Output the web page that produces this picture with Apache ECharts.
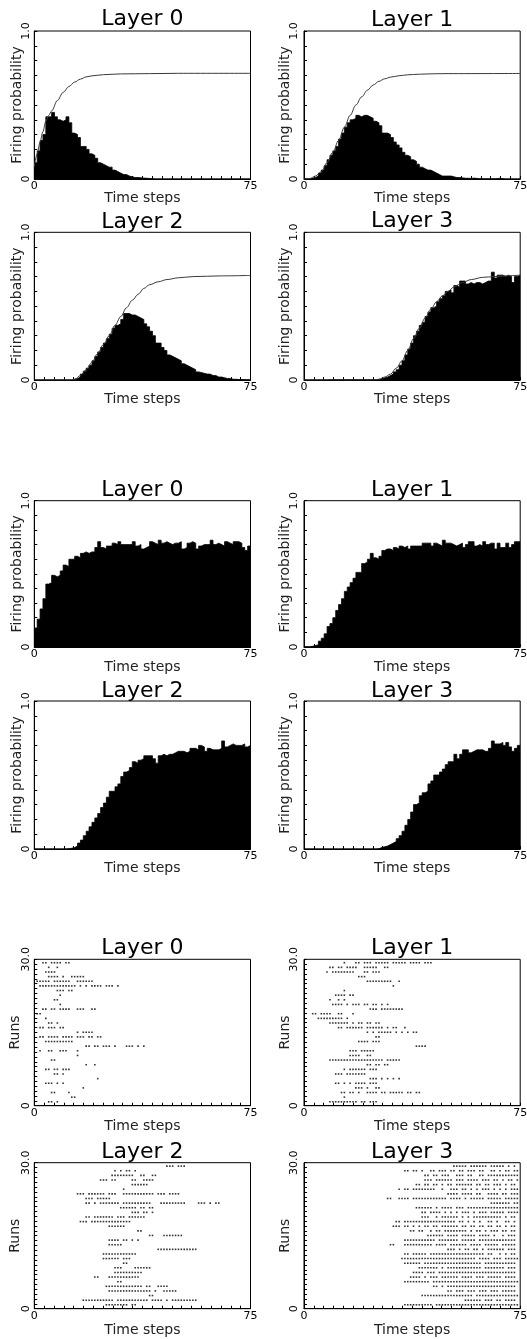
<!DOCTYPE html>
<html><head><meta charset="utf-8">
<script src="https://cdn.jsdelivr.net/npm/echarts@6/dist/echarts.min.js"></script>
<style>html,body{margin:0;padding:0;background:#fff}#c{width:527px;height:1339px}</style>
</head><body><div id="c"></div>
<script>
// ---------- DATA ----------
const timeBins = [0,1,2,3,4,5,6,7,8,9,10,11,12,13,14,15,16,17,18,19,20,21,22,23,24,25,26,27,28,29,30,31,32,33,34,35,36,37,38,39,40,41,42,43,44,45,46,47,48,49,50,51,52,53,54,55,56,57,58,59,60,61,62,63,64,65,66,67,68,69,70,71,72,73,74];
const timeEnd = 75;
const layerTitles = ['Layer 0','Layer 1','Layer 2','Layer 3'];

// Group 1: firing probability histograms with theoretical curve
const histA_L0 = [0.11,0.19,0.26,0.30,0.42,0.42,0.45,0.42,0.40,0.39,0.40,0.42,0.38,0.31,0.30,0.28,0.22,0.22,0.20,0.17,0.16,0.14,0.11,0.10,0.09,0.08,0.08,0.06,0.05,0.04,0.03,0.03,0.02,0.015,0.01,0.01,0.008,0.006,0.005,0.003,0.002,0,0,0,0,0,0,0,0,0,0,0,0,0,0,0,0,0,0,0,0,0,0,0,0,0,0,0,0,0,0,0,0,0,0];
const histA_L1 = [0.002,0.003,0.005,0.01,0.02,0.04,0.06,0.09,0.13,0.16,0.19,0.22,0.27,0.31,0.35,0.38,0.40,0.41,0.43,0.42,0.43,0.43,0.42,0.41,0.39,0.38,0.36,0.31,0.31,0.30,0.28,0.25,0.23,0.21,0.18,0.16,0.15,0.13,0.12,0.10,0.08,0.07,0.06,0.06,0.05,0.04,0.03,0.02,0.02,0.02,0.02,0.015,0.01,0.01,0.008,0.005,0.005,0.004,0.006,0.004,0.002,0.001,0.001,0.001,0.001,0.001,0.002,0.005,0.002,0,0,0,0,0,0];
const histA_L2 = [0,0,0,0,0,0,0,0,0,0,0,0,0,0.005,0.01,0.02,0.04,0.06,0.08,0.10,0.13,0.16,0.19,0.22,0.25,0.28,0.31,0.35,0.37,0.38,0.41,0.45,0.45,0.44,0.44,0.43,0.42,0.41,0.38,0.36,0.33,0.30,0.25,0.25,0.22,0.20,0.17,0.16,0.15,0.14,0.13,0.11,0.10,0.09,0.08,0.07,0.055,0.05,0.045,0.04,0.04,0.03,0.03,0.02,0.02,0.015,0.01,0.01,0.005,0.005,0.003,0.003,0.002,0.002,0.001];
const histA_L3 = [0,0,0,0,0,0,0,0,0.002,0.002,0.002,0.002,0.002,0.002,0.002,0.002,0.002,0.002,0.002,0.002,0.002,0.002,0.002,0.002,0.002,0.004,0.008,0.015,0.02,0.03,0.04,0.055,0.07,0.10,0.13,0.17,0.21,0.25,0.30,0.33,0.37,0.39,0.43,0.46,0.49,0.50,0.53,0.55,0.57,0.60,0.61,0.59,0.64,0.63,0.67,0.67,0.65,0.66,0.65,0.66,0.66,0.65,0.66,0.67,0.67,0.73,0.69,0.71,0.71,0.70,0.71,0.70,0.66,0.70,0.71];
const curveA_L0 = [[0,0.08],[1,0.17],[2,0.25],[3,0.32],[4,0.39],[5,0.43],[6,0.46],[8,0.53],[10,0.585],[12,0.625],[14,0.655],[16,0.675],[18,0.69],[20,0.697],[24,0.705],[30,0.71],[40,0.712],[50,0.714],[75,0.714]];
const curveA_L1 = [[0,0],[2,0.003],[4,0.02],[6,0.05],[8,0.11],[10,0.18],[12,0.26],[14,0.35],[16,0.43],[18,0.50],[20,0.555],[22,0.60],[24,0.635],[26,0.66],[28,0.677],[30,0.688],[33,0.698],[36,0.704],[40,0.708],[45,0.711],[50,0.712],[75,0.713]];
const curveA_L2 = [[0,0],[12,0],[14,0.005],[16,0.03],[18,0.07],[20,0.12],[22,0.18],[24,0.24],[26,0.30],[28,0.37],[30,0.43],[32,0.49],[34,0.54],[36,0.58],[38,0.62],[40,0.645],[43,0.665],[46,0.68],[50,0.692],[55,0.70],[65,0.705],[75,0.708]];
const curveA_L3 = [[0,0],[24,0],[26,0.005],[28,0.02],[30,0.04],[32,0.08],[34,0.13],[36,0.20],[38,0.28],[40,0.35],[42,0.42],[44,0.48],[46,0.53],[48,0.57],[50,0.60],[52,0.63],[55,0.66],[58,0.68],[62,0.695],[66,0.70],[70,0.705],[75,0.71]];

// Group 2: firing probability histograms
const histB_L0 = [0.13,0.19,0.26,0.33,0.43,0.44,0.49,0.48,0.49,0.52,0.56,0.55,0.60,0.60,0.62,0.61,0.64,0.65,0.64,0.65,0.65,0.68,0.72,0.68,0.67,0.69,0.69,0.71,0.70,0.72,0.70,0.70,0.70,0.70,0.72,0.69,0.70,0.67,0.68,0.69,0.72,0.71,0.70,0.73,0.71,0.72,0.71,0.70,0.71,0.71,0.72,0.67,0.68,0.71,0.72,0.71,0.67,0.69,0.70,0.70,0.70,0.73,0.70,0.71,0.70,0.69,0.72,0.71,0.70,0.72,0.72,0.71,0.68,0.66,0.69];
const histB_L1 = [0.002,0.002,0.005,0.01,0.015,0.04,0.06,0.09,0.14,0.16,0.20,0.25,0.29,0.33,0.38,0.41,0.44,0.47,0.51,0.51,0.57,0.58,0.60,0.64,0.61,0.60,0.62,0.66,0.67,0.67,0.66,0.68,0.67,0.69,0.68,0.69,0.67,0.69,0.69,0.69,0.69,0.71,0.71,0.71,0.69,0.71,0.70,0.69,0.73,0.71,0.71,0.70,0.69,0.70,0.71,0.68,0.70,0.72,0.72,0.69,0.70,0.69,0.72,0.70,0.71,0.71,0.67,0.71,0.68,0.68,0.71,0.68,0.70,0.72,0.72];
const histB_L2 = [0,0,0,0,0,0,0,0,0,0,0,0.002,0.005,0.01,0.02,0.04,0.06,0.09,0.12,0.15,0.18,0.21,0.24,0.28,0.31,0.35,0.39,0.39,0.42,0.44,0.49,0.52,0.53,0.55,0.59,0.58,0.60,0.61,0.63,0.63,0.63,0.61,0.58,0.63,0.64,0.63,0.64,0.64,0.65,0.66,0.66,0.66,0.65,0.66,0.68,0.68,0.67,0.70,0.69,0.66,0.68,0.67,0.67,0.67,0.68,0.73,0.69,0.70,0.71,0.70,0.70,0.70,0.71,0.69,0.70];
const histB_L3 = [0,0,0,0,0,0,0,0,0,0,0,0,0,0,0,0,0,0,0,0,0,0,0,0,0,0.002,0.01,0.015,0.02,0.03,0.04,0.05,0.07,0.09,0.12,0.16,0.20,0.25,0.30,0.31,0.36,0.38,0.39,0.44,0.46,0.50,0.50,0.52,0.54,0.57,0.59,0.59,0.64,0.61,0.64,0.67,0.67,0.65,0.66,0.67,0.67,0.67,0.66,0.66,0.68,0.73,0.71,0.71,0.72,0.70,0.72,0.69,0.66,0.68,0.70];

// Group 3: spike rasters (rows listed top to bottom; values = firing time steps)
const rasterRowY = [29.3,28.35,27.4,26.45,25.5,24.55,23.6,22.65,21.7,20.75,19.8,18.85,17.9,16.95,16.0,15.05,14.1,13.15,12.2,11.25,10.3,9.35,8.4,7.45,6.5,5.55,4.6,3.65,2.7,1.75,0.8];
const raster_L0 = [
 [3,4,6,7,8,9,11,12],[5,8],[4,5,6,7],[5,6,7,8,10,13,14,15,16,17],
 [1,2,3,4,5,7,8,9,10,11,12,15,16,17,18,19,20],
 [2,3,4,5,6,7,8,9,10,11,12,13,14,16,18,20,21,22,23,25,26,27,29],
 [8,9,10,12,13],[9],[7,8],[9],[3,4,6,7,9,10,11,12,15,16,17,20,21],[1,2],[4],[5,6,8],
 [2,3,5,6,7,9,10],[15,17,18,19,20],[2,3,5,6,7,8,10,11,12,13,15,16,17,19,20,22,23],
 [4,5,6,7,8,9,10,11,12,13],[18,19,21,22,24,25,26,28,32,33,34,36,38],[2,5,6,9,10,11,15],
 [15],[6,7],[18,21],[4,5,7,8,10,11,12],[7,8,10],[22],[4,5,6,8,10],[17],[6,7,12],[13,14],[5,6,8]
];
const raster_L1 = [
 [14,18,19,21,22,23,25,26,27,28,29,31,32,33,34,35,37,38,39,40,42,43,44],
 [9,10,12,13,15,16,17,18,21,22,23,24,25,28,29],
 [8,10,11,12,13,14,15,16,17,21,22,24,25,26],
 [19,20,21],[22,23,24,25,26,27,28,29,30,33],[31],[14],[11,12,13,14,16,17],[9,12,14],
 [10,11,12,13,15,17,18,19,21,22,24,25,27,29],[23,24,25,27,28,29,30,31,32,33,34],
 [3,4,6,7,8,9,12,13,17],[5,6,7,8,9,10,11,12,13,15],[9,10,11,12,13,14,15,17,19,20,22,23,25,26],
 [12,13,15,16,17,18,19,20,22,23,24,25,26,27,29,31,32,35],[22,24,26,27,28,29,30,32,34,36,38,39],
 [25,26],[19,20,21,22,24,25,26],[39,40,41,42],[16,17,18,20,21,22,23,24],[16,17,18,19,22,23],
 [9,10,11,12,13,14,15,16,17,18,19,20,21,22,23,24,25,26,27,29,30,31,32,33],[22,23,25,26,28,29],
 [14,16,17,18,19,20,21,23,24,25],[11,12,13,15,16,17,18,19,20,21],[23,24,25,27,29,31,33],
 [11,12,14,16,18,19,20,21,23,24,25],[18,19,20,22,25,26],
 [13,14,16,17,19,22,23,24,25,27,28,30,31,32,33,34,36,37,39,40],[14],
 [9,10,11,12,13,14,15,16,17,18,20,21,23,24,25]
];
const raster_L2 = [
 [46,47,48,50,51,52],[28,30,32,33,35],[27,28,29,30,31,32,33,34,37,38,41,42],[23,24,25,27,28,34,35,38,39,40,41],
 [34,35,36,37,38,39],[31],
 [15,16,17,19,20,21,22,23,24,26,27,28,31,32,33,34,35,36,37,38,39,40,41,43,44,45,47,48,49,50],
 [18,19,20,22,23,24,25,26],
 [18,19,21,23,24,25,26,27,28,29,31,32,33,34,35,36,37,38,39,40,44,45,46,47,48,49,50,51,52,57,58,59,61,63,64],
 [30,31,32,33,34,35,37,38,40,41],[34,35,36,38,39,41],[18,19,21,22,23,24,25,26,27,29,30,31,33,34,35,36,37,38],
 [16,17,18,20,21,22,23,24,25,26,27,28,29,30,31,32,33],[26,27,28,29,30,31],[36,37],[40,41,45,46,47,48,49,50,51],
 [26,27,28,29,31,32,34,36],[26,27,28,29,30],[43,44,45,46,47,48,49,50,51,52,53,54,55,56],
 [24,25,26,27,28,29,30,31,32,33,34,35],[24,25,26,27,28,29,31,32,33],[31,32],[28,29,30,35,36,37,38,39,40],
 [28,29,30,31,32,33,34,35,36,37],[21,22,26,27,28,29,30,31,32,33,34,35,36],[29,30],
 [25,26,27,28,29,30,31,32,33,34,35,36,37,39,40,43,44,45,46],
 [26,27,28,29,30,31,32,33,34,35,36,37,38,39,40,42,45,46,47,48,49],[40,41],
 [17,18,19,20,21,22,23,24,25,26,27,29,30,31,32,33,34,35,36,37,38,39,41,42,43,44,46,48,49,50,51,52,53,54,55,56],
 [25,26,27,28,29,30,31,32,34,35]
];
const raster_L3 = [
 [52,53,54,55,56,58,59,60,61,62,63,65,66,67,68,69,71,73],
 [35,36,38,39,41,44,45,47,48,49,51,52,54,55,57,58,59,61,62,65,66,68,70,71,73,74],
 [42,43,45,46,48,49,50,53,54,55,57,58,61,62,64,65,66,67,68,69,70,71,72,73,74],
 [42,43,44,46,47,48,49,50,51,53,54,55,57,58,59,60,62,63,64,66,67,69,71,72,74],
 [39,40,42,43,45,46,48,50,51,53,54,55,56,57,58,60,61,63,64,66,67,68,70,72,73],
 [33,35,36,38,39,40,41,42,43,44,45,48,51,52,53,55,56,58,60,62,63,64,66,68,70,72,73,74],
 [50,51,52,53,55,56,57,58,60,61,64,65,66,67,69,70,72,73,74],
 [29,30,33,34,35,36,38,39,40,41,42,43,44,45,46,47,48,49,51,52,53,54,56,58,59,60,61,62,64,65,66,67,68,70,71,72,73,74],
 [65,66,67,68,69,70,71,73,74],
 [39,40,41,42,43,44,46,48,49,50,51,53,54,55,57,58,59,60,61,62,63,64,65,66,67,68,69,70,71,72,73,74],
 [41,42,44,45,46,47,49,51,53,55,56,57,59,61,62,63,65,66,67,68,69,71,72,73,74],
 [41,42,43,46,48,49,50,51,52,53,55,57,59,60,61,62,63,64,65,66,67,68,70,72,73],
 [32,33,35,36,37,38,39,40,41,42,43,44,45,46,47,48,49,50,51,52,54,55,57,59,61,64,65,67,70,71,73],
 [31,32,33,35,36,38,40,42,43,45,46,48,49,50,51,52,53,55,56,58,59,61,62,64,65,67,68,70,72,73],
 [37,38,40,41,44,46,47,49,50,51,52,53,54,55,56,58,60,61,63,65,66,67,69,70,72,73],
 [43,44,45,46,47,48,50,51,52,53,55,56,57,58,59,61,62,63,64,66,69,71,72,73],
 [35,36,37,38,39,40,41,42,43,44,45,47,48,49,50,51,52,53,55,56,57,58,59,61,62,63,64,65,66,67,68,69,70,71,72,73],
 [30,31,35,36,37,38,39,40,41,42,43,44,46,47,48,49,51,52,53,54,55,56,58,59,60,61,63,64,65,66,67,69,70,71,72,73],
 [50,51,52,54,56,57,59,60,62,64,65,66,67,68,69,71,72,73],
 [35,36,38,39,40,41,42,44,45,46,47,48,49,50,51,52,53,54,55,56,57,58,59,60,61,62,64,65,68,70,72,73],
 [34,35,36,37,38,39,40,41,42,43,44,45,46,47,48,49,50,51,52,53,54,55,56,57,58,59,61,62,63,64,66,67,68,70,71,72,73,74],
 [35,36,37,38,39,40,42,43,44,45,46,47,48,49,50,51,52,53,54,55,56,57,58,59,60,61,63,64,65,66,67,68,69,70,71,72,73],
 [40,41,42,43,44,45,46,48,50,51,52,53,54,55,56,57,58,59,60,61,63,64,65,66,67,68,69,71,72,73],
 [38,39,40,41,43,44,45,47,48,49,50,51,52,53,54,55,56,57,58,59,60,61,62,63,64,65,66,67,68,69,70,71,72,73],
 [37,38,39,40,42,44,45,46,48,49,50,51,52,53,55,56,57,58,60,61,62,64,65,66,67,68,70,71,72,73],
 [35,36,37,38,39,40,41,42,43,45,46,47,48,49,50,51,52,53,54,55,56,57,58,59,60,61,62,63,64,65,66,67,68,69,70,71,72,73,74],
 [45,46,48,50,51,52,53,54,55,56,57,58,59,60,61,62,63,64,65,66,67,68,69,70,71,72,73],
 [50,51,53,54,55,57,58,59,61,62,63,65,66,67,69,70,71,72,73],
 [41,42,43,44,45,46,47,48,49,50,51,52,53,54,55,56,57,58,60,61,62,63,64,65,66,67,68,69,70,71,72,73,74],
 [56,57,58,59,60,61,63,64,65,67,68,70,71,72,73],
 [35,36,37,38,39,40,41,42,43,44,46,47,48,49,50,51,52,53,54,55,56,57,58,59,60,61,62,63,64,65,66,67,68,69,70,71,72,73,74]
];

// ---------- LAYOUT / BUILD ----------
const FONT = '"DejaVu Sans", Verdana, sans-serif';
const COLX = [34.3, 304];
const PW = 216.2;
const panels = [
  {col:0, y:31,    h:148,   t:0, hist:histA_L0, curve:curveA_L0, ty:19.6,   xg:12, yg:10},
  {col:1, y:31,    h:148,   t:1, hist:histA_L1, curve:curveA_L1, ty:19.9,   xg:12, yg:12},
  {col:0, y:232.3, h:147.7, t:2, hist:histA_L2, curve:curveA_L2, ty:222.2,  xg:12, yg:10},
  {col:1, y:232.3, h:147.7, t:3, hist:histA_L3, curve:curveA_L3, ty:221.2,  xg:12, yg:12},
  {col:0, y:500.7, h:146.3, t:0, hist:histB_L0, ty:490,    xg:13, yg:10},
  {col:1, y:500.7, h:146.3, t:1, hist:histB_L1, ty:490,    xg:13, yg:12},
  {col:0, y:701,   h:148,   t:2, hist:histB_L2, ty:691,    xg:12, yg:10},
  {col:1, y:701,   h:148,   t:3, hist:histB_L3, ty:691,    xg:12, yg:12},
  {col:0, y:959.3, h:146.4, t:0, raster:raster_L0, ty:948.6, xg:14, yg:12},
  {col:1, y:959.3, h:146.4, t:1, raster:raster_L1, ty:948.6, xg:14, yg:12},
  {col:0, y:1162.7,h:146,   t:2, raster:raster_L2, ty:1152,  xg:15, yg:12},
  {col:1, y:1162.7,h:146,   t:3, raster:raster_L3, ty:1152,  xg:15, yg:12}
];

const grids = [], xAxes = [], yAxes = [], series = [], graphics = [];
const axisLineStyle = {lineStyle:{color:'#000', width:1}};
const tickStyle = {show:true, inside:true, length:3, lineStyle:{color:'#000', width:1}};
const nameStyle = {fontFamily:FONT, fontSize:14, color:'#222'};
const labelBase = {fontFamily:FONT, fontSize:11, color:'#000'};

panels.forEach((p, i) => {
  const x = COLX[p.col];
  grids.push({left:x, top:p.y, width:PW, height:p.h, show:true, borderColor:'#000', borderWidth:1,
              backgroundColor:'rgba(0,0,0,0)', containLabel:false, outerBoundsMode:'none'});
  const xi = xAxes.length;
  xAxes.push({
    gridIndex:i, type:'value', min:0, max:75, interval:75/22, position:'bottom',
    axisLine:axisLineStyle, axisTick:tickStyle, splitLine:{show:false},
    axisLabel:Object.assign({margin:2, showMinLabel:true, showMaxLabel:true,
      formatter:v => v === 0 ? '0' : (Math.abs(v - 75) < 1e-3 ? '75' : '')}, labelBase),
    name:'Time steps', nameLocation:'middle', nameGap:p.xg, nameTextStyle:nameStyle, nameMoveOverlap:false
  });
  const isRaster = !!p.raster;
  const yi = yAxes.length;
  yAxes.push({
    gridIndex:i, type:'value', min:0, max:isRaster ? 30 : 1, interval:isRaster ? 1 : 0.1,
    axisLine:axisLineStyle, axisTick:tickStyle, splitLine:{show:false},
    axisLabel:Object.assign({margin:p.col ? 4 : 3, rotate:90, showMinLabel:true, showMaxLabel:true,
      formatter:v => v === 0 ? '0' : (isRaster ? (Math.abs(v-30)<1e-6 ? '30.0' : '') : (Math.abs(v-1)<1e-6 ? '1.0' : ''))}, labelBase),
    name:isRaster ? 'Runs' : 'Firing probability', nameLocation:'middle', nameGap:p.yg,
    nameTextStyle:nameStyle, nameMoveOverlap:false
  });
  if (p.hist) {
    // histogram: each bin value spans [t, t+1] — drawn as a stepped filled outline (no seams between bins)
    const stepData = p.hist.map((v, k) => [timeBins[k], v]);
    stepData.push([timeEnd, p.hist[p.hist.length - 1]]);
    series.push({type:'line', step:'end', xAxisIndex:xi, yAxisIndex:yi, data:stepData,
      showSymbol:false, symbol:'none', lineStyle:{color:'#000', width:0.8},
      areaStyle:{color:'#000', opacity:1, origin:'start'}, silent:true, z:2});
  }
  if (p.curve) {
    series.push({type:'line', xAxisIndex:xi, yAxisIndex:yi, data:p.curve, smooth:0.35, smoothMonotone:'x',
      showSymbol:false, symbol:'none', lineStyle:{color:'#3a3a3a', width:1}, silent:true, z:4});
  }
  if (p.raster) {
    const pts = [];
    p.raster.forEach((row, r) => row.forEach(t => pts.push([t, rasterRowY[r]])));
    series.push({type:'scatter', xAxisIndex:xi, yAxisIndex:yi, data:pts, symbol:'rect', symbolSize:1.6,
      itemStyle:{color:'#000'}, silent:true, z:3});
  }
  graphics.push({type:'text', x:x + PW/2, y:p.ty, silent:true,
    style:{text:layerTitles[p.t], font:'22px ' + FONT, fill:'#000',
           textAlign:'center', textVerticalAlign:'middle', align:'center', verticalAlign:'middle'}});
});

const chart = echarts.init(document.getElementById('c'), null, {renderer:'canvas', width:527, height:1339});
chart.setOption({
  animation:false, backgroundColor:'#fff',
  grid:grids, xAxis:xAxes, yAxis:yAxes, series:series, graphic:graphics
});
</script>
</body></html>
